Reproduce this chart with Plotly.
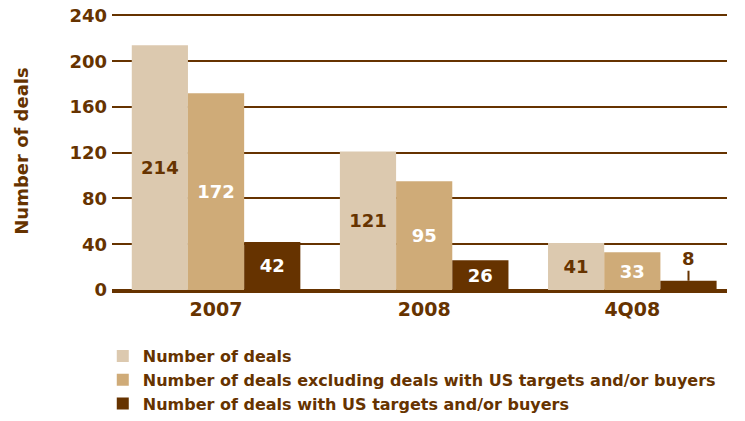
import plotly.graph_objects as go

# Deal counts by period
periods = ["2007", "2008", "4Q08"]
all_deals = [214, 121, 41]
ex_us_deals = [172, 95, 33]
us_deals = [42, 26, 8]

series_names = [
    "Number of deals",
    "Number of deals excluding deals with US targets and/or buyers",
    "Number of deals with US targets and/or buyers",
]
y_ticks = [0, 40, 80, 120, 160, 200, 240]

BROWN = "#663300"
LIGHT = "#DCC9AF"
TAN = "#CFAB78"
FONT = "DejaVu Sans"


def bold(size, color=BROWN):
    return dict(family=FONT, size=size, color=color, weight="bold")


fig = go.Figure()

fig.add_trace(go.Bar(
    name=series_names[0], x=periods, y=all_deals,
    marker=dict(color=LIGHT, line=dict(width=0)),
    text=[str(v) for v in all_deals], textposition="inside",
    insidetextanchor="middle", textfont=bold(18),
))
fig.add_trace(go.Bar(
    name=series_names[1], x=periods, y=ex_us_deals,
    marker=dict(color=TAN, line=dict(width=0)),
    text=[str(v) for v in ex_us_deals], textposition="inside",
    insidetextanchor="middle", textfont=bold(18, "white"),
))
# the last US bar is too short for an inside label; it gets a callout instead
us_text = [str(v) for v in us_deals[:-1]] + [""]
fig.add_trace(go.Bar(
    name=series_names[2], x=periods, y=us_deals,
    marker=dict(color=BROWN, line=dict(width=0)),
    text=us_text, textposition="inside",
    insidetextanchor="middle", textfont=bold(18, "white"),
))

bargap = 0.19
bar_w = (1 - bargap) / 3
fig.add_annotation(
    x=len(periods) - 1 + bar_w, y=us_deals[-1], xref="x", yref="y",
    text=str(us_deals[-1]), showarrow=True, arrowhead=0, arrowwidth=2,
    arrowcolor=BROWN, ax=0, ay=-10, yanchor="bottom",
    font=bold(18),
)

fig.update_layout(
    width=745, height=421,
    margin=dict(l=112, r=18, t=12, b=0),
    paper_bgcolor="white", plot_bgcolor="white",
    barmode="group", bargap=bargap, bargroupgap=0,
    font=dict(family=FONT, color=BROWN, weight="bold"),
    legend=dict(
        orientation="v", x=-0.015, xanchor="left", y=0.2005, yanchor="top",
        font=bold(16), itemwidth=30, traceorder="normal",
    ),
    xaxis=dict(
        type="category", range=[-0.5, 2.455], automargin=False,
        showgrid=False, showline=True, linecolor=BROWN, linewidth=3,
        ticks="", ticklabelstandoff=0, tickfont=bold(19),
        fixedrange=True,
    ),
    yaxis=dict(
        range=[0, 243], domain=[0.3203, 1], automargin=False,
        tickvals=y_ticks, ticktext=[str(v) for v in y_ticks],
        showgrid=True, gridcolor=BROWN, gridwidth=2,
        zeroline=True, zerolinecolor=BROWN, zerolinewidth=3,
        showline=False, ticks="", ticklabelstandoff=4,
        tickfont=bold(18),
        title=dict(text="Number of deals", standoff=36, font=bold(18)),
        fixedrange=True,
    ),
)

fig.write_html("out.html")
